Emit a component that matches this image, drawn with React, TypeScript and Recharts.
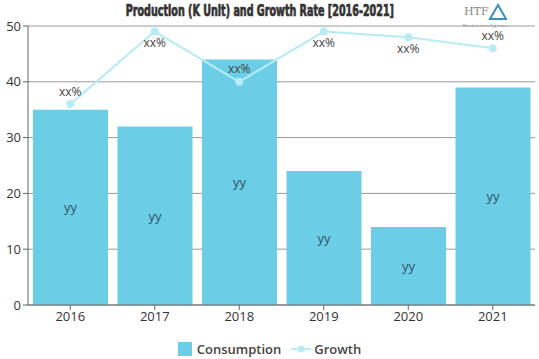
import React from "react";
import { ComposedChart, Bar, Line, XAxis, YAxis, CartesianGrid, LabelList } from "recharts";

const years = ["2016", "2017", "2018", "2019", "2020", "2021"];
const consumption = [35, 32, 44, 24, 14, 39];
const growth = [36, 49, 40, 49, 48, 46];
const barLabels = ["yy", "yy", "yy", "yy", "yy", "yy"];
const growthLabels = ["xx%", "xx%", "xx%", "xx%", "xx%", "xx%"];
const yTicks = [0, 10, 20, 30, 40, 50];

const data = years.map((y, i) => ({
  year: y,
  consumption: consumption[i],
  growth: growth[i],
  barLabel: barLabels[i],
  growthLabel: growthLabels[i],
}));

const FONT = "'Open Sans', 'Noto Sans', sans-serif";

const GrowthLabel = (props: any) => {
  const { x, y, value, index } = props;
  const below = growth[index] > 47;
  return (
    <text
      x={x}
      y={below ? y + 11 : y - 13}
      textAnchor="middle"
      dominantBaseline="central"
      fontSize={12}
      fontFamily={FONT}
      fill="#444"
    >
      {value}
    </text>
  );
};

const BarLabel = (props: any) => {
  const { x, y, width, height, value } = props;
  return (
    <text
      x={x + width / 2}
      y={y + height / 2}
      textAnchor="middle"
      dominantBaseline="central"
      fontSize={13}
      fontFamily={FONT}
      fill="#2f5466"
    >
      {value}
    </text>
  );
};

const Legend = () => (
  <div
    style={{
      position: "absolute",
      top: 340,
      left: 0,
      width: 539,
      display: "flex",
      justifyContent: "center",
      alignItems: "center",
      fontFamily: FONT,
      fontSize: 13,
      fontWeight: 600,
      color: "#444",
    }}
  >
    <span style={{ display: "inline-block", width: 14, height: 14, background: "#6ccde6", marginRight: 5 }} />
    <span style={{ marginRight: 10 }}>Consumption</span>
    <svg width={20} height={14} style={{ marginRight: 3 }}>
      <line x1={0} y1={7} x2={20} y2={7} stroke="#b8ecf5" strokeWidth={2} />
      <circle cx={10} cy={7} r={3.5} fill="#b8ecf5" />
    </svg>
    <span>Growth</span>
  </div>
);

const Title = () => (
  <div
    style={{
      position: "absolute",
      top: 2,
      left: 0,
      width: 520,
      textAlign: "center",
      pointerEvents: "none",
    }}
  >
    <span
      style={{
        display: "inline-block",
        whiteSpace: "nowrap",
        fontFamily: "'DejaVu Sans Condensed', 'DejaVu Sans', sans-serif",
        fontWeight: "bold",
        fontSize: 15,
        lineHeight: "17px",
        color: "#333",
        WebkitTextStroke: "0.7px #333",
        transform: "scaleX(0.71)",
        transformOrigin: "center",
      }}
    >
      Production (K Unit) and Growth Rate [2016-2021]
    </span>
  </div>
);

export default function App() {
  return (
    <div style={{ position: "absolute", left: 0, top: 0, width: 539, height: 359, background: "#fff" }}>
      <ComposedChart
        width={539}
        height={359}
        data={data}
        margin={{ top: 26, right: 4, bottom: 24, left: 0 }}
        barCategoryGap={5}
      >
        <CartesianGrid vertical={false} stroke="#999" strokeDasharray="" />
        <XAxis
          dataKey="year"
          height={30}
          tick={{ fontSize: 13, fill: "#333", fontFamily: FONT }}
          stroke="#666"
          tickLine={{ stroke: "#666" }}
          tickSize={5}
          interval={0}
        />
        <YAxis
          width={28}
          domain={[0, 50]}
          ticks={yTicks}
          tick={{ fontSize: 13, fill: "#333", fontFamily: FONT }}
          stroke="#666"
          tickSize={5}
          tickMargin={2}
        />
        <Bar dataKey="consumption" fill="#6ccde6" isAnimationActive={false}>
          <LabelList dataKey="barLabel" content={BarLabel} />
        </Bar>
        <Line
          dataKey="growth"
          stroke="#b8ecf5"
          strokeWidth={2}
          dot={{ r: 4, fill: "#b8ecf5", stroke: "#b8ecf5", strokeWidth: 0 }}
          isAnimationActive={false}
        >
          <LabelList dataKey="growthLabel" content={GrowthLabel} />
        </Line>
        <text x={464} y={15} fontFamily="'DejaVu Serif', serif" fontSize={11} fill="#888">HTF</text>
        <text x={463} y={27} fontFamily={FONT} fontSize={4} fill="#888" textLength={44}>Market Intelligence</text>
        <path d="M498 5 L506 19 L490 19 Z" fill="none" stroke="#3a8ec0" strokeWidth={2} />
      </ComposedChart>
      <Title />
      <Legend />
    </div>
  );
}
